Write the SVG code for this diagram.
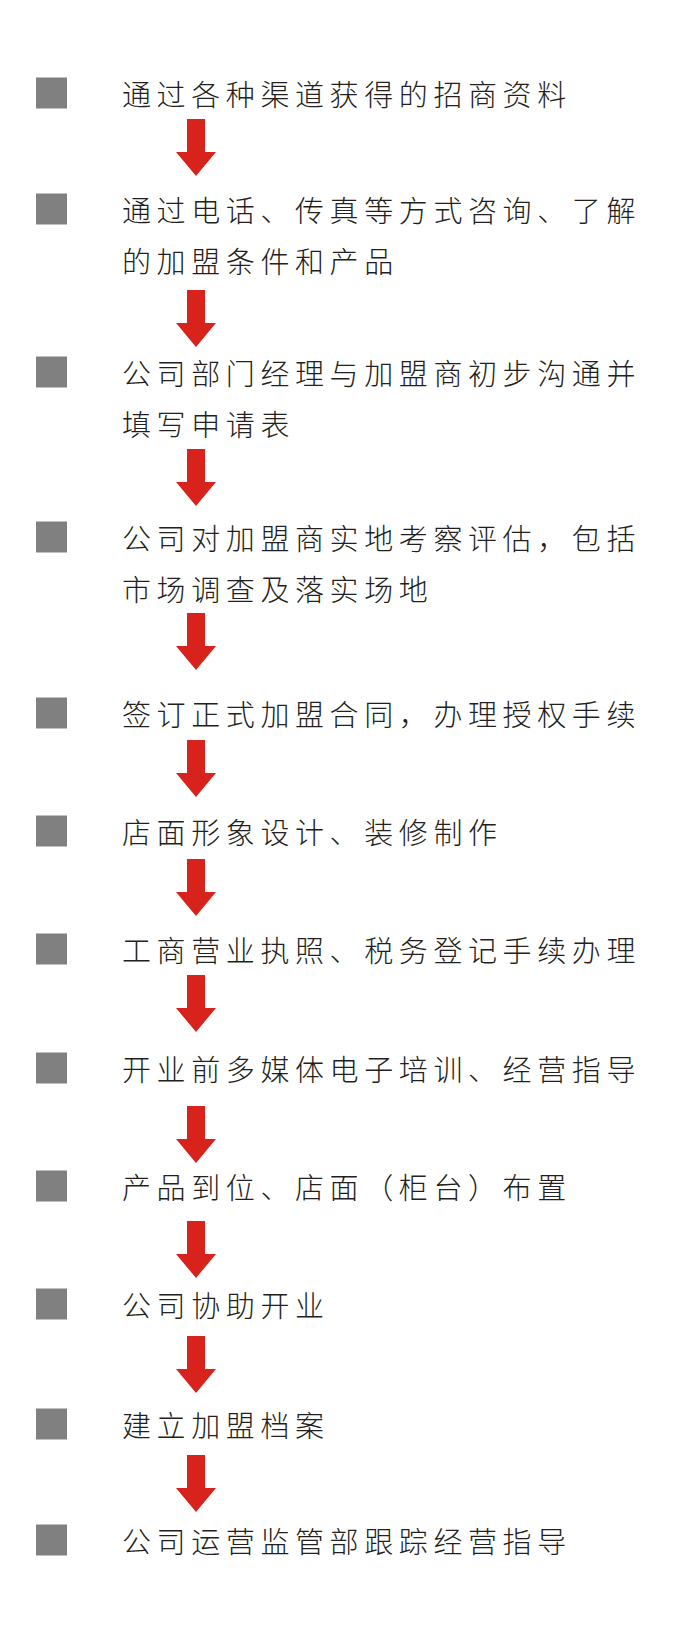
<svg xmlns="http://www.w3.org/2000/svg" width="700" height="1636" viewBox="0 0 700 1636">
<style>
.sq{fill:#808080}
.t{font-family:"Noto Sans CJK SC","Noto Sans CJK JP",sans-serif;font-size:29px;font-weight:300;letter-spacing:5.6px;fill:#231f20;dominant-baseline:central}
.ar{fill:#d8231c}
</style>
<defs>
<path id="arrow" d="M187,0 H205 V33 H216 L196,57 L176,33 H187 Z"/>
</defs>
<rect width="700" height="1636" fill="#ffffff"/>
<g id="connectors" class="ar">
<use href="#arrow" y="119"/>
<use href="#arrow" y="290"/>
<use href="#arrow" y="449"/>
<use href="#arrow" y="613"/>
<use href="#arrow" y="740"/>
<use href="#arrow" y="859"/>
<use href="#arrow" y="975"/>
<use href="#arrow" y="1106"/>
<use href="#arrow" y="1221"/>
<use href="#arrow" y="1336"/>
<use href="#arrow" y="1455"/>
</g>
<g id="n1"><rect class="sq" x="36" y="77.5" width="31" height="31"/><text class="t" x="122" y="93">通过各种渠道获得的招商资料</text></g>
<g id="n2"><rect class="sq" x="36" y="193.5" width="31" height="31"/><text class="t" x="122" y="209">通过电话、传真等方式咨询、了解</text><text class="t" x="122" y="260">的加盟条件和产品</text></g>
<g id="n3"><rect class="sq" x="36" y="356.5" width="31" height="31"/><text class="t" x="122" y="372">公司部门经理与加盟商初步沟通并</text><text class="t" x="122" y="423">填写申请表</text></g>
<g id="n4"><rect class="sq" x="36" y="521.5" width="31" height="31"/><text class="t" x="122" y="537">公司对加盟商实地考察评估，包括</text><text class="t" x="122" y="588">市场调查及落实场地</text></g>
<g id="n5"><rect class="sq" x="36" y="697.5" width="31" height="31"/><text class="t" x="122" y="713">签订正式加盟合同，办理授权手续</text></g>
<g id="n6"><rect class="sq" x="36" y="815.5" width="31" height="31"/><text class="t" x="122" y="831">店面形象设计、装修制作</text></g>
<g id="n7"><rect class="sq" x="36" y="933.5" width="31" height="31"/><text class="t" x="122" y="949">工商营业执照、税务登记手续办理</text></g>
<g id="n8"><rect class="sq" x="36" y="1052.5" width="31" height="31"/><text class="t" x="122" y="1068">开业前多媒体电子培训、经营指导</text></g>
<g id="n9"><rect class="sq" x="36" y="1170.5" width="31" height="31"/><text class="t" x="122" y="1186">产品到位、店面（柜台）布置</text></g>
<g id="n10"><rect class="sq" x="36" y="1288.5" width="31" height="31"/><text class="t" x="122" y="1304">公司协助开业</text></g>
<g id="n11"><rect class="sq" x="36" y="1408.5" width="31" height="31"/><text class="t" x="122" y="1424">建立加盟档案</text></g>
<g id="n12"><rect class="sq" x="36" y="1524.5" width="31" height="31"/><text class="t" x="122" y="1540">公司运营监管部跟踪经营指导</text></g>
</svg>
